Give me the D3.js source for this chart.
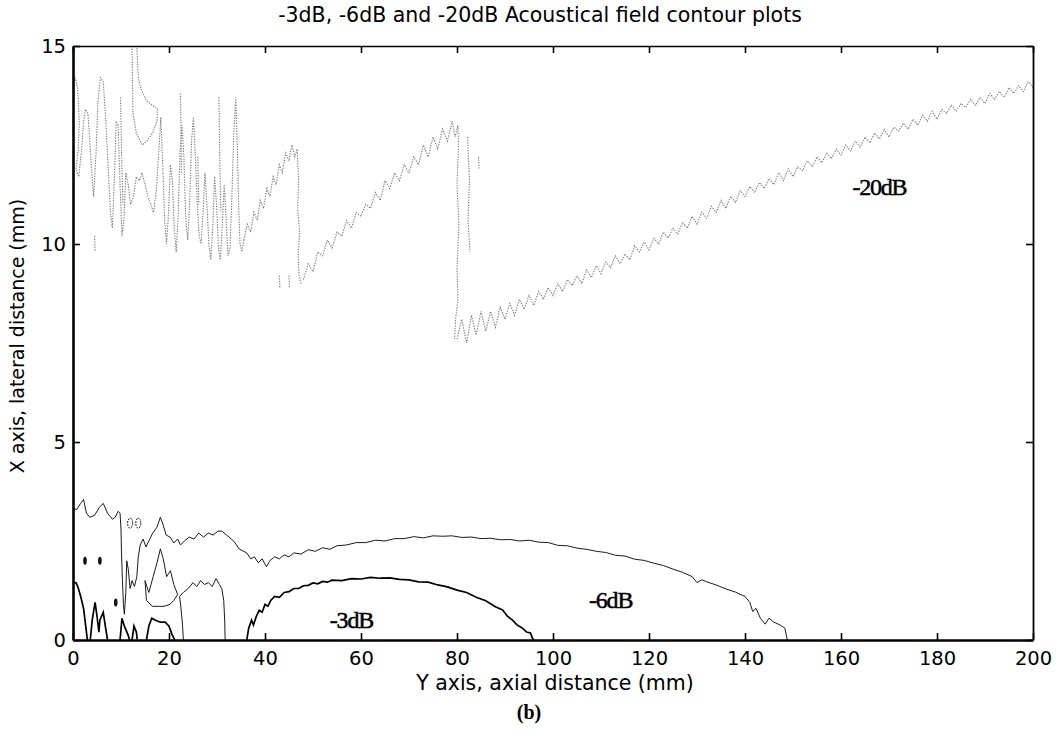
<!DOCTYPE html>
<html>
<head>
<meta charset="utf-8">
<script src="https://cdn.jsdelivr.net/npm/d3@7/dist/d3.min.js"></script>
<style>
  body { margin: 0; background: #fff; }
  svg { display: block; }
</style>
</head>
<body>
<script>
// axis setup
const xTicks = [0, 20, 40, 60, 80, 100, 120, 140, 160, 180, 200];
const yTicks = [0, 5, 10, 15];

// -20dB contour, near field wiggles (axial mm, lateral mm)
const nf20Main = [[0,14.0],[0.5,14.2],[1.0,13.9],[1.3,13.1],[1.1,12.4],[0.6,11.9],[1.2,11.7],[1.8,12.4],[2.2,13.1],[2.6,13.4],[3.1,13.3],[3.5,12.6],[3.9,11.8],[4.3,11.2],[4.8,12.3],[5.2,13.6],[5.7,14.2],[6.3,14.1],[6.8,13.2],[7.3,12.0],[7.8,10.8],[8.2,10.4],[8.6,11.6],[9.0,13.1],[9.4,13.0],[9.8,11.5],[10.2,10.2],[10.6,10.6],[11.0,11.8],[11.5,11.5],[12.0,11.0],[12.6,11.2],[13.2,11.7],[13.8,11.6],[14.4,11.8],[15.0,11.5],[15.6,11.2],[16.2,11.0],[16.8,10.8],[17.4,11.4],[17.9,12.4],[18.3,13.2],[18.7,12.0],[19.1,10.6],[19.5,10.0],[19.9,10.8],[20.3,12.0],[20.7,11.6],[21.1,10.4],[21.5,9.8],[21.9,10.7],[22.3,12.3],[22.7,13.0],[23.1,12.2],[23.5,10.6],[23.9,10.1],[24.3,11.0],[24.7,12.6],[25.1,13.2],[25.5,12.2],[25.9,11.0],[26.3,10.2],[26.7,10.0],[27.1,10.8],[27.5,11.8],[27.9,11.0],[28.3,10.0],[28.7,9.6],[29.1,10.4],[29.5,11.7],[29.9,11.0],[30.3,9.9],[30.7,9.6],[31.1,10.5],[31.5,11.5],[31.9,10.6],[32.3,9.7],[32.7,9.9],[33.1,11.2],[33.5,12.8],[33.9,13.7],[34.2,12.6],[34.5,11.0],[34.8,10.0],[35.2,9.8],[35.6,10.1]];
const nf20Loop = [[12.3,15.0],[12.4,14.0],[12.5,13.3],[13.2,12.8],[14.4,12.5],[15.4,12.6],[16.6,12.8],[17.5,13.1],[17.6,13.4],[16.6,13.5],[15.4,13.6],[14.2,13.9],[13.6,14.2],[13.3,15.0]];
const nf20Strokes = [
  [[9.9,13.7],[10.1,12.4],[10.4,11.0]],
  [[22.4,13.8],[22.6,11.8]],
  [[26.0,12.2],[26.2,11.0]],
  [[30.4,13.7],[30.6,12.0],[30.8,10.8]],
  [[4.5,10.2],[4.6,9.8]],
  [[43.0,9.2],[43.1,8.9]],
  [[45.0,9.2],[45.1,8.9]],
  [[84.5,12.2],[84.6,11.9]],
  [[82.2,12.7],[82.6,11.6],[82.3,10.6],[82.7,9.8]]
];
// -20dB sawtooth branches
const saw20a = [[35.6,10.1],[36.3,10.5],[37,10.3],[37.7,10.8],[38.4,10.6],[39,11.1],[39.7,10.9],[40.4,11.4],[41,11.2],[41.7,11.7],[42.3,11.5],[43,12.0],[43.6,11.8],[44.3,12.3],[45,12.1],[45.6,12.5],[46.2,12.2],[46.7,12.4],[47.0,11.6],[46.8,10.9],[47.2,10.3],[46.9,9.7],[47.1,9.2],[47.5,9.0]];
const saw20b = [[48,9.1],[49,9.5],[50,9.3],[51,9.8],[52,9.7],[53,10.1],[54,9.9],[55,10.3],[56,10.2],[57,10.6],[58,10.4],[59,10.8],[60,10.7],[61,11.0],[62,10.9],[63,11.3],[64,11.1],[65,11.6],[66,11.4],[67,11.8],[68,11.6],[69,12.0],[70,11.8],[71,12.2],[72,12.0],[73,12.5],[74,12.2],[75,12.7],[76,12.4],[77,12.9],[78,12.6],[79,13.1],[79.6,12.7],[80.2,13.0],[80.3,12.4],[80.0,11.5],[80.4,10.5],[80.0,9.4],[80.2,8.6],[79.7,8.1],[79.5,7.6]];
// -20dB far field
const far20 = [[80,7.6],[81,8.1],[82,7.5],[83,8.2],[84,7.7],[85,8.3],[86,7.8],[87,8.3],[88,7.9],[89,8.4],[90,8.1],[91,8.5],[92,8.2],[93,8.6],[94,8.35],[95,8.7],[96,8.45],[97,8.8],[98,8.6],[99,8.9],[100,8.7],[101,9.0],[102,8.8],[103,9.1],[104,8.95],[105,9.2],[106,9.0],[107,9.35],[108,9.15],[109,9.45],[110,9.25],[111,9.55],[112,9.4],[113,9.7],[114,9.5],[115,9.75],[116,9.6],[117,9.95],[118,9.8],[119,10.05],[120,9.85],[121,10.15],[122,10.0],[123,10.3],[124,10.15],[125,10.4],[126,10.25],[127,10.55],[128,10.4],[129,10.7],[130,10.5],[131,10.8],[132,10.65],[133,10.95],[134,10.8],[135,11.1],[136,10.9],[137,11.2],[138,11.05],[139,11.35],[140,11.2],[141,11.45],[142,11.3],[143,11.55],[144,11.4],[145,11.65],[146,11.5],[147,11.8],[148,11.6],[149,11.9],[150,11.7],[151,11.95],[152,11.85],[153,12.1],[154,11.95],[155,12.2],[156,12.05],[157,12.3],[158,12.15],[159,12.4],[160,12.25],[161,12.5],[162,12.35],[163,12.6],[164,12.45],[165,12.7],[166,12.55],[167,12.8],[168,12.65],[169,12.9],[170,12.7],[171,12.95],[172,12.85],[173,13.05],[174,12.9],[175,13.15],[176,13.0],[177,13.25],[178,13.1],[179,13.35],[180,13.15],[181,13.4],[182,13.3],[183,13.5],[184,13.35],[185,13.55],[186,13.45],[187,13.65],[188,13.5],[189,13.7],[190,13.55],[191,13.8],[192,13.65],[193,13.85],[194,13.7],[195,13.95],[196,13.8],[197,14.0],[198,13.85],[199,14.1],[200,13.95]];

// -6dB contour
const six6Outer = [[0,3.3],[0.8,3.3],[1.6,3.45],[2.2,3.55],[2.8,3.2],[3.5,3.1],[4.5,3.15],[5.5,3.35],[6.3,3.45],[7.2,3.2],[8.2,3.05],[8.8,3.1],[9.4,3.25],[9.8,3.2],[10.0,2.8],[10.1,2.2],[10.3,1.5],[10.5,0.9],[10.7,0.65],[11.0,1.2],[11.2,2.0],[11.5,1.8],[11.9,1.3],[12.3,1.5],[12.8,1.35],[13.3,1.6],[13.6,2.1],[14.0,2.4],[14.6,2.55],[15.2,2.35],[15.8,2.5],[16.6,2.7],[17.5,2.85],[18.2,3.1],[18.8,2.9],[19.4,2.65],[20.2,2.6],[21.0,2.45],[21.8,2.55],[22.4,2.4],[23.2,2.5],[24.2,2.6],[25.2,2.55],[26.2,2.7],[27.2,2.6],[28.2,2.7],[29.2,2.65],[30.2,2.75],[31.0,2.75],[32.0,2.65],[33.0,2.55],[33.8,2.45],[34.6,2.3],[35.4,2.25],[36.2,2.2],[37.0,2.05],[37.8,2.1],[38.6,1.95],[39.4,2.05],[40.3,1.85],[41.0,2.0],[42.0,2.1],[43.0,2.05],[44.0,2.15],[45.0,2.1],[46.0,2.2],[47.5,2.17],[49,2.28],[50.5,2.24],[52,2.33],[53.5,2.29],[55,2.38],[57,2.4],[59,2.46],[61,2.46],[63,2.52],[65,2.5],[67,2.56],[69,2.56],[71,2.61],[73,2.58],[75,2.63],[77,2.62],[79,2.63],[81,2.59],[83,2.6],[85,2.56],[87,2.57],[89,2.53],[91,2.54],[93,2.5],[95,2.52],[97,2.47],[99,2.46],[101,2.39],[103,2.38],[105,2.32],[107,2.29],[109,2.24],[111,2.21],[113,2.14],[115,2.12],[117,2.04],[119,2.01],[121,1.94],[123,1.88],[125,1.79],[127,1.71],[129,1.6],[130,1.45],[131,1.52],[132,1.47],[134,1.39],[136,1.29],[138,1.21],[140,1.1],[141,0.95],[141.6,0.72],[142.3,0.8],[143.2,0.55],[144.2,0.4],[145,0.55],[146,0.45],[147.3,0.38],[148.3,0.3],[148.8,0]];
const six6LoopTop = [[15.0,1.5],[15.8,1.2],[16.7,1.6],[17.5,1.95],[18.2,2.3],[18.8,2.05],[19.5,1.6],[20.3,1.75],[21.0,1.4],[21.8,1.15]];
const six6LoopBottom = [[15.0,1.5],[15.3,1.0],[16.5,0.85],[17.8,0.85],[19.0,0.85],[20.2,0.9],[21.0,1.0],[21.8,1.15]];
const six6Inner = [[23.0,0],[22.8,0.4],[22.5,0.8],[22.2,1.1],[23.0,1.2],[24.0,1.3],[25.0,1.45],[25.8,1.35],[26.6,1.5],[27.4,1.4],[28.2,1.45],[29.0,1.35],[29.8,1.55],[30.5,1.4],[31.0,1.3],[31.4,1.0],[31.6,0.5],[31.7,0]];
const six6Rings = [[11.9,2.95],[13.6,2.95]];
const six6Blobs = [[2.5,2.0],[5.6,2.0],[8.9,0.95]];

// -3dB contour
const three3Lobes = [
  [[0,1.45],[0.6,1.45],[1.0,1.35],[1.6,1.1],[2.2,0.8],[2.6,0.4],[3.0,0]],
  [[3.6,0],[4.0,0.5],[4.6,0.95],[5.0,0.6],[5.4,0.2],[5.6,0.5],[6.3,0.7],[6.8,0.3],[7.2,0]],
  [[9.8,0],[10.2,0.55],[10.7,0.35],[11.4,0.15],[11.8,0]],
  [[12.3,0],[12.7,0.35],[13.2,0.2],[13.4,0]],
  [[15.3,0],[15.8,0.35],[16.4,0.55],[17.2,0.5],[18.2,0.45],[19.2,0.45],[20.0,0.35],[20.6,0.15],[21.2,0]]
];
const three3Main = [[36.2,0],[36.6,0.3],[37.2,0.5],[37.6,0.38],[38.2,0.6],[38.8,0.75],[39.4,0.7],[40.0,0.9],[40.6,0.85],[41.2,1.0],[42.0,1.1],[43,1.08],[44,1.2],[45,1.22],[46,1.3],[47,1.3],[48,1.37],[49,1.38],[50,1.44],[51,1.42],[52,1.48],[53,1.46],[54,1.51],[56,1.5],[58,1.55],[60,1.54],[62,1.58],[64,1.56],[66,1.57],[68,1.53],[70,1.52],[72,1.47],[74,1.46],[76,1.39],[78,1.34],[80,1.26],[82,1.2],[84,1.08],[86,0.99],[88,0.84],[89.5,0.76],[90.5,0.6],[91.5,0.51],[92.5,0.38],[93.5,0.31],[94.5,0.2],[95.3,0.18],[95.7,0.05],[96,0]];

const plotLabels = [
  { text: '-20dB', x: 168, y: 11.25 },
  { text: '-6dB', x: 112, y: 0.8 },
  { text: '-3dB', x: 58, y: 0.3 }
];

const svgWidth = 1059;
const svgHeight = 738;
const margin = { top: 46, right: 26, bottom: 98, left: 73 };
const chartWidth = svgWidth - margin.left - margin.right;
const chartHeight = svgHeight - margin.top - margin.bottom;

const svg = d3.select('body').append('svg')
    .attr('width', svgWidth)
    .attr('height', svgHeight);

const g = svg.append('g').attr('transform', 'translate(' + margin.left + ',' + margin.top + ')');

const x = d3.scaleLinear().domain([0, 200]).range([0, chartWidth]);
const y = d3.scaleLinear().domain([0, 15]).range([chartHeight, 0]);

const line = d3.line().x(d => x(d[0])).y(d => y(d[1]));

// -20dB dotted grey
const grey = g.append('g')
    .attr('fill', 'none')
    .attr('stroke', '#7a7a7a')
    .attr('stroke-width', 1.1)
    .attr('stroke-dasharray', '1.3,1.3');
[nf20Main, nf20Loop, ...nf20Strokes, saw20a, saw20b, far20].forEach(seg => {
    grey.append('path').attr('d', line(seg));
});

// -6dB thin line
const thin = g.append('g')
    .attr('fill', 'none')
    .attr('stroke', '#1a1a1a')
    .attr('stroke-width', 1);
[six6Outer, six6LoopTop, six6LoopBottom, six6Inner].forEach(seg => {
    thin.append('path').attr('d', line(seg));
});
thin.selectAll('ellipse')
    .data(six6Rings)
    .enter().append('ellipse')
    .attr('cx', d => x(d[0]))
    .attr('cy', d => y(d[1]))
    .attr('rx', 2.5)
    .attr('ry', 5)
    .attr('stroke-dasharray', '2,1');
g.selectAll('.blob')
    .data(six6Blobs)
    .enter().append('ellipse')
    .attr('class', 'blob')
    .attr('cx', d => x(d[0]))
    .attr('cy', d => y(d[1]))
    .attr('rx', 1.8)
    .attr('ry', 4)
    .attr('fill', '#111');

// -3dB thicker line
const thick = g.append('g')
    .attr('fill', 'none')
    .attr('stroke', '#000')
    .attr('stroke-width', 1.7);
[...three3Lobes, three3Main].forEach(seg => {
    thick.append('path').attr('d', line(seg));
});

// axes, ticks inside
const fontAxis = 'DejaVu Sans, sans-serif';

const xAxis = g.append('g')
    .attr('transform', 'translate(0,' + chartHeight + ')')
    .call(d3.axisBottom(x).tickValues(xTicks).tickSize(-7).tickSizeOuter(0).tickPadding(11).tickFormat(d3.format('d')));
const yAxis = g.append('g')
    .call(d3.axisLeft(y).tickValues(yTicks).tickSize(-7).tickSizeOuter(0).tickPadding(7).tickFormat(d3.format('d')));
const xTop = g.append('g')
    .call(d3.axisTop(x).tickValues(xTicks).tickSize(-7).tickSizeOuter(0).tickFormat(''));
const yRight = g.append('g')
    .attr('transform', 'translate(' + chartWidth + ',0)')
    .call(d3.axisRight(y).tickValues(yTicks).tickSize(-7).tickSizeOuter(0).tickFormat(''));

[xAxis, yAxis, xTop, yRight].forEach(a => {
    a.selectAll('.tick line').attr('stroke', '#000').attr('stroke-width', 1.6);
    a.selectAll('text').attr('fill', '#000').style('font-family', fontAxis).style('font-size', '19.5px');
});
xAxis.select('.domain').attr('stroke', '#000').attr('stroke-width', 2.6);
yAxis.select('.domain').attr('stroke', '#000').attr('stroke-width', 2.6);
xTop.select('.domain').attr('stroke', '#000').attr('stroke-width', 1.6);
yRight.select('.domain').attr('stroke', '#000').attr('stroke-width', 1.8);

// contour level labels
g.selectAll('.lvl')
    .data(plotLabels)
    .enter().append('text')
    .attr('class', 'lvl')
    .attr('x', d => x(d.x))
    .attr('y', d => y(d.y))
    .attr('text-anchor', 'middle')
    .style('font-family', 'Liberation Serif, Times New Roman, serif')
    .style('font-size', '24px')
    .style('letter-spacing', '-1.2px')
    .attr('fill', '#000')
    .attr('stroke', '#000')
    .attr('stroke-width', 0.5)
    .text(d => d.text);

// titles
svg.append('text')
    .attr('x', 540)
    .attr('y', 22)
    .attr('text-anchor', 'middle')
    .style('font-family', fontAxis)
    .style('font-size', '20.5px')
    .text('-3dB, -6dB and -20dB Acoustical field contour plots');

svg.append('text')
    .attr('x', 555)
    .attr('y', 690)
    .attr('text-anchor', 'middle')
    .style('font-family', fontAxis)
    .style('font-size', '20.5px')
    .text('Y axis, axial distance (mm)');

svg.append('text')
    .attr('transform', 'translate(24,' + 336 + ') rotate(-90)')
    .attr('text-anchor', 'middle')
    .style('font-family', fontAxis)
    .style('font-size', '19px')
    .text('X axis, lateral distance (mm)');

svg.append('text')
    .attr('x', 529)
    .attr('y', 719)
    .attr('text-anchor', 'middle')
    .style('font-family', 'Liberation Serif, Times New Roman, serif')
    .style('font-size', '20px')
    .style('font-weight', 'bold')
    .text('(b)');
</script>
</body>
</html>
